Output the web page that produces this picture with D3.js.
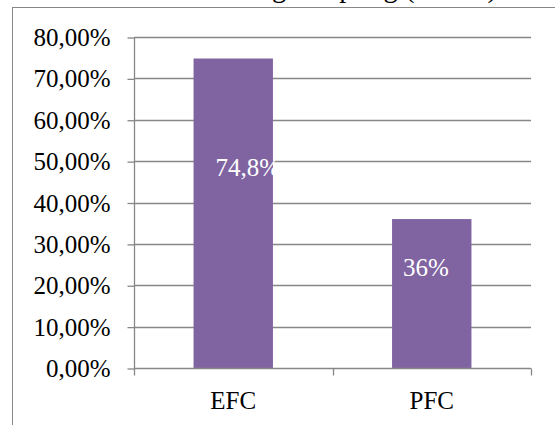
<!DOCTYPE html>
<html>
<head>
<meta charset="utf-8">
<script src="https://cdn.jsdelivr.net/npm/d3@7"></script>
<style>
html,body{margin:0;padding:0;background:#fff;}
svg{display:block;}
text{font-family:"Liberation Serif","Times New Roman",serif;}
</style>
</head>
<body>
<svg id="chart" width="555" height="425"></svg>
<script>
// ---- data ----
const categories = ["EFC", "PFC"];
const values = [0.748, 0.36];
const valueLabels = ["74,8%", "36%"];
const yTicks = [0, 0.1, 0.2, 0.3, 0.4, 0.5, 0.6, 0.7, 0.8];
const titleText = "Pain during sampling (n=147)";

// ---- layout ----
const W = 555, H = 425;
const plot = {left: 134, right: 531, top: 37, bottom: 368};
const gridColor = "#878787";
const barColor = "#8064A2";
const labelDx = [22, 11];

const svg = d3.select("#chart");
const locale = d3.formatLocale({decimal: ",", thousands: ".", grouping: [3], currency: ["", ""]});
const fmt = v => locale.format(".2f")(v * 100) + "%";

const x = d3.scaleBand().domain(categories).range([plot.left, plot.right]).paddingInner(0).paddingOuter(0);
const y = d3.scaleLinear().domain([0, 0.8]).range([plot.bottom, plot.top]);

// frame
svg.append("rect").attr("x", 12.5).attr("y", 7.5).attr("width", 700).attr("height", 600)
  .attr("fill", "none").attr("stroke", gridColor).attr("stroke-width", 1);

// title (clipped at top, as in the source image)
svg.append("text").attr("x", 497).attr("y", -3).attr("text-anchor", "end")
  .attr("font-size", 28.5).attr("fill", "#000").text(titleText);

// gridlines
svg.append("g").selectAll("line").data(yTicks.filter(d => d > 0)).join("line")
  .attr("x1", plot.left).attr("x2", plot.right)
  .attr("y1", d => Math.round(y(d)) + 0.5).attr("y2", d => Math.round(y(d)) + 0.5)
  .attr("stroke", gridColor).attr("stroke-width", 1.3);

// bars
const barW = x.bandwidth() * 0.4;
svg.append("g").selectAll("rect").data(categories).join("rect")
  .attr("x", (d) => x(d) + (x.bandwidth() - barW) / 2)
  .attr("y", (d, i) => y(values[i]))
  .attr("width", barW)
  .attr("height", (d, i) => y(0) - y(values[i]))
  .attr("fill", barColor);

// y axis
const yAxis = d3.axisLeft(y).tickValues(yTicks).tickFormat(fmt).tickSize(7).tickPadding(17);
const gy = svg.append("g").attr("transform", `translate(${plot.left + 0.5},0.5)`).call(yAxis);
gy.attr("font-family", null);
gy.select(".domain").attr("stroke", gridColor).attr("stroke-width", 1.3).attr("d", `M0,${y(0.8)}V${y(0)}`);
gy.selectAll(".tick line").attr("stroke", gridColor).attr("stroke-width", 1.3);
gy.selectAll(".tick text").attr("font-size", 25).attr("fill", "#000").attr("dy", "0.32em");

// x axis
const gx = svg.append("g").attr("transform", `translate(0,${plot.bottom + 0.5})`);
gx.append("line").attr("x1", plot.left).attr("x2", plot.right).attr("stroke", gridColor).attr("stroke-width", 1.3);
const xTickPos = categories.map(c => x(c)).concat([plot.right]);
gx.selectAll("line.tk").data(xTickPos).join("line").attr("class", "tk")
  .attr("x1", d => Math.round(d) + 0.5).attr("x2", d => Math.round(d) + 0.5)
  .attr("y1", 0).attr("y2", 7).attr("stroke", gridColor).attr("stroke-width", 1.3);
gx.selectAll("text").data(categories).join("text")
  .attr("x", d => x(d) + x.bandwidth() / 2).attr("y", 40)
  .attr("text-anchor", "middle").attr("font-size", 25).attr("fill", "#000").text(d => d);

// value labels
svg.append("g").selectAll("text").data(categories).join("text")
  .attr("x", (d, i) => x(d) + (x.bandwidth() - barW) / 2 + labelDx[i])
  .attr("y", (d, i) => y(values[i] * 0.62))
  .attr("font-size", 25).attr("fill", "#fff")
  .text((d, i) => valueLabels[i]);
</script>
</body>
</html>
